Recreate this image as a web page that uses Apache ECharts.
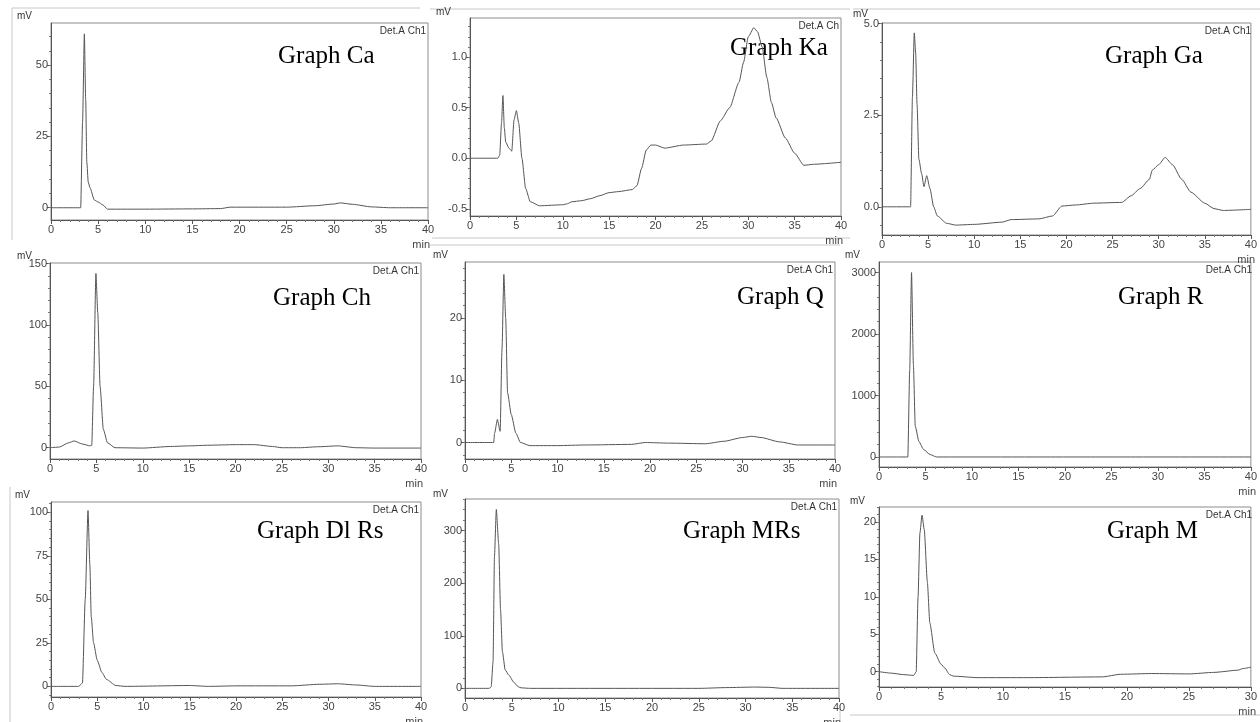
<!DOCTYPE html>
<html><head><meta charset="utf-8">
<script src="https://cdn.jsdelivr.net/npm/echarts@6/dist/echarts.min.js"></script>
<style>html,body{margin:0;padding:0;background:#fff}#c{width:1260px;height:722px}</style>
</head><body><div id="c"></div>
<script>
// ---- data: [time (min), signal (mV)] ----
const caTrace = [[0,0],[3.15,0],[3.35,30],[3.54,61],[3.68,38],[3.8,16],[3.95,9],[4.14,7],[4.6,2.7],[5.0,2],[5.5,1],[6.0,-0.5],[10,-0.5],[15,-0.4],[18,-0.3],[19,0.2],[25,0.2],[28,0.7],[30,1.3],[30.7,1.7],[32,1.2],[34,0.3],[36,0],[40,0]];
const kaTrace = [[0,0],[3.0,0],[3.2,0.03],[3.4,0.35],[3.55,0.62],[3.7,0.3],[3.85,0.16],[4.2,0.1],[4.5,0.07],[4.75,0.38],[5.0,0.47],[5.25,0.35],[5.6,0.0],[6.0,-0.3],[6.5,-0.43],[7.5,-0.47],[10,-0.46],[10.5,-0.45],[11,-0.43],[12,-0.42],[13,-0.40],[14,-0.37],[15,-0.34],[16,-0.33],[17.5,-0.31],[18,-0.27],[18.5,-0.1],[19,0.08],[19.5,0.13],[20,0.13],[21,0.10],[23,0.13],[25.5,0.14],[26,0.17],[27,0.37],[28,0.5],[29,0.75],[29.5,0.95],[30,1.2],[30.6,1.29],[31,1.25],[31.5,1.1],[32,0.8],[32.5,0.55],[33,0.4],[34,0.2],[35,0.05],[36,-0.07],[37,-0.06],[40,-0.04]];
const gaTrace = [[0,0],[3.1,0],[3.3,3.0],[3.5,4.75],[3.65,4.2],[3.8,2.8],[4.0,1.3],[4.3,0.9],[4.55,0.55],[4.85,0.85],[5.2,0.5],[5.6,0.0],[6.0,-0.25],[7,-0.45],[8,-0.5],[10,-0.48],[13,-0.42],[14,-0.35],[17,-0.33],[18.5,-0.25],[19.5,0.02],[21,0.05],[23,0.1],[26,0.12],[27,0.3],[28,0.5],[29,0.75],[29.3,1.0],[30,1.15],[30.7,1.35],[31.5,1.15],[32.5,0.75],[33.5,0.4],[35,0.1],[36,-0.05],[37,-0.1],[40,-0.07]];
const chTrace = [[0,0],[1,0.5],[2,4],[2.6,5.5],[3.5,3],[4.3,1.5],[4.5,2],[4.7,50],[4.95,142],[5.15,110],[5.4,50],[5.75,15],[6.2,4],[7,0],[10,-0.3],[13,1],[15,1.5],[17,2],[20,2.5],[22,2.5],[24,1],[25,0],[27,0],[29,0.8],[31,1.5],[33,0],[35,-0.3],[40,-0.3]];
const qTrace = [[0,0],[3.1,0],[3.2,1.5],[3.5,3.7],[3.8,1.8],[4.0,15],[4.2,27],[4.4,20],[4.6,8],[5.0,4.5],[5.5,1.5],[6,0],[7,-0.5],[10,-0.5],[13,-0.4],[18,-0.3],[19.5,0],[22,-0.1],[26,-0.2],[28,0.2],[30,0.8],[31,1.0],[32,0.8],[34,0.1],[36,-0.4],[40,-0.4]];
const rTrace = [[0,0],[3.1,0],[3.3,1400],[3.5,3000],[3.7,1500],[3.9,500],[4.3,250],[4.8,120],[5.5,40],[6.2,0],[40,0]];
const dlrsTrace = [[0,0],[3,0],[3.4,2],[3.7,50],[4.0,101],[4.2,70],[4.35,40],[4.6,25],[5,15],[5.5,8],[6,4],[7,0.5],[8,0],[15,0.5],[17,0],[20,0.3],[26,0.3],[29,1.2],[31,1.5],[33,0.8],[35,0],[40,0]];
const mrsTrace = [[0,0],[2.6,0],[2.8,3],[3.0,50],[3.15,250],[3.35,340],[3.6,275],[3.8,150],[4.0,70],[4.3,35],[4.7,25],[5.2,12],[5.7,3],[6,1],[7,0],[25,0],[28,1.5],[31,2.5],[32.5,2],[34,0],[40,0]];
const mTrace = [[0,0],[1,-0.2],[2,-0.4],[2.8,-0.5],[3.0,0],[3.15,10],[3.3,18.5],[3.47,20.9],[3.65,19],[3.9,12],[4.1,6.5],[4.5,2.5],[5.0,1.0],[5.3,0.5],[5.7,-0.4],[6,-0.6],[8,-0.8],[12,-0.8],[18,-0.7],[19.5,-0.35],[22,-0.25],[25,-0.3],[27,-0.1],[29,0.2],[29.3,0.4],[30,0.6]];

// panel titles
const titles = ['Graph Ca','Graph Ka','Graph Ga','Graph Ch','Graph Q','Graph R','Graph Dl Rs','Graph MRs','Graph M'];
// y tick labels
const caYTicks = [0,25,50];
const kaYTicks = [-0.5,0,0.5,1.0];
const gaYTicks = [0,2.5,5.0];
const chYTicks = [0,50,100,150];
const qYTicks = [0,10,20];
const rYTicks = [0,1000,2000,3000];
const dlrsYTicks = [0,25,50,75,100];
const mrsYTicks = [0,100,200,300];
const mYTicks = [0,5,10,15,20];

// ---- layout ----
const panels = [
  {trace:caTrace, ticks:caYTicks, dec:0, ymin:-4.3, ymax:64.8, minor:5, xmax:40, g:[51,23,377,197], title:[278,60], det:'Det.A Ch1', mv:[17,17]},
  {trace:kaTrace, ticks:kaYTicks, dec:1, ymin:-0.571, ymax:1.386, minor:0.1, xmax:40, g:[470,18,371,198], title:[730,52], det:'Det.A Ch', mv:[436,13]},
  {trace:gaTrace, ticks:gaYTicks, dec:1, ymin:-0.77, ymax:5.02, minor:0.5, xmax:40, g:[882,23,371,212], title:[1105,60], det:'Det.A Ch1', mv:[853,15]},
  {trace:chTrace, ticks:chYTicks, dec:0, ymin:-9.2, ymax:150.5, minor:10, xmax:40, g:[50,263,371,196], title:[273,302], det:'Det.A Ch1', mv:[17,257]},
  {trace:qTrace, ticks:qYTicks, dec:0, ymin:-2.65, ymax:29, minor:2, xmax:40, g:[465,262,370,197], title:[737,301], det:'Det.A Ch1', mv:[433,256]},
  {trace:rTrace, ticks:rYTicks, dec:0, ymin:-163, ymax:3172, minor:200, xmax:40, g:[879,262,375,205], title:[1118,301], det:'Det.A Ch1', mv:[845,256]},
  {trace:dlrsTrace, ticks:dlrsYTicks, dec:0, ymin:-6.1, ymax:105.9, minor:5, xmax:40, g:[51,502,370,195], title:[257,535], det:'Det.A Ch1', mv:[15,496]},
  {trace:mrsTrace, ticks:mrsYTicks, dec:0, ymin:-18.3, ymax:360, minor:20, xmax:40, g:[465,499,374,199], title:[683,535], det:'Det.A Ch1', mv:[433,495]},
  {trace:mTrace, ticks:mYTicks, dec:0, ymin:-2.05, ymax:22, minor:1, xmax:30, g:[879,507,375,180], title:[1107,535], det:'Det.A Ch1', mv:[850,502]}
];

const font = "'Liberation Sans Narrow','Liberation Sans',Arial,sans-serif";
const grids=[], xAxes=[], yAxes=[], series=[], graphics=[];
panels.forEach((p,i)=>{
  const [l,t,w,h]=p.g;
  grids.push({left:l, top:t, width:w, height:h, show:true, borderColor:'#8c8c8c', borderWidth:1, backgroundColor:'transparent'});
  xAxes.push({type:'value', gridIndex:i, min:0, max:p.xmax, interval:5, position:'bottom',
    axisLine:{onZero:false, lineStyle:{color:'#555', width:1}},
    axisTick:{length:4, lineStyle:{color:'#555'}},
    minorTick:{show:true, splitNumber:5, length:2, lineStyle:{color:'#777'}},
    axisLabel:{fontSize:11, color:'#444', margin:4, fontFamily:font},
    splitLine:{show:false}});
  const minors=[];
  for(let v=Math.ceil(p.ymin/p.minor)*p.minor; v<=p.ymax+1e-9; v+=p.minor){ minors.push(+v.toFixed(4)); }
  yAxes.push({type:'value', gridIndex:i, min:p.ymin, max:p.ymax, position:'left',
    axisLine:{show:true, onZero:false, lineStyle:{color:'#555', width:1}},
    axisTick:{show:true, length:4, customValues:p.ticks, lineStyle:{color:'#555'}},
    axisLabel:{show:true, customValues:p.ticks, fontSize:11, color:'#444', margin:3, fontFamily:font,
      formatter:(v)=>Number(v).toFixed(p.dec)},
    splitLine:{show:false}});
  yAxes.push({type:'value', gridIndex:i, min:p.ymin, max:p.ymax, position:'left',
    axisLine:{show:false, onZero:false},
    axisTick:{show:true, length:2, customValues:minors, lineStyle:{color:'#777'}},
    axisLabel:{show:false}, splitLine:{show:false}});
  series.push({type:'line', xAxisIndex:i, yAxisIndex:2*i, data:p.trace, showSymbol:false, symbol:'none',
    smooth:0.2, smoothMonotone:'x', lineStyle:{color:'#555', width:1}, silent:true});
  graphics.push({type:'text', left:p.title[0], top:p.title[1]-16, style:{text:titles[i], font:"25px 'Liberation Serif','Times New Roman',serif", fill:'#000'}});
  graphics.push({type:'text', right:1260-(l+w)+2, top:t+3, style:{text:p.det, font:"10px "+font, fill:'#333'}});
  graphics.push({type:'text', left:p.mv[0], top:p.mv[1]-6, style:{text:'mV', font:"10px "+font, fill:'#333'}});
  graphics.push({type:'text', right:1260-(l+w)-2, top:t+h+19, style:{text:'min', font:"11px "+font, fill:'#444'}});
});

// screenshot separator lines
const sep=[[12,8,420,8],[12,8,12,240],[432,238,850,238],[430,9,850,9],[853,9,1260,9],[430,245,840,245],[10,487,10,722],[850,715,1260,715],[840,705,840,722]];
sep.forEach(s=>graphics.push({type:'line', shape:{x1:s[0],y1:s[1],x2:s[2],y2:s[3]}, style:{stroke:'#c8c8c8', lineWidth:1}, z:-1}));

const chart = echarts.init(document.getElementById('c'), null, {renderer:'canvas'});
chart.setOption({animation:false, backgroundColor:'#fff', grid:grids, xAxis:xAxes, yAxis:yAxes, series:series, graphic:graphics});
</script></body></html>
